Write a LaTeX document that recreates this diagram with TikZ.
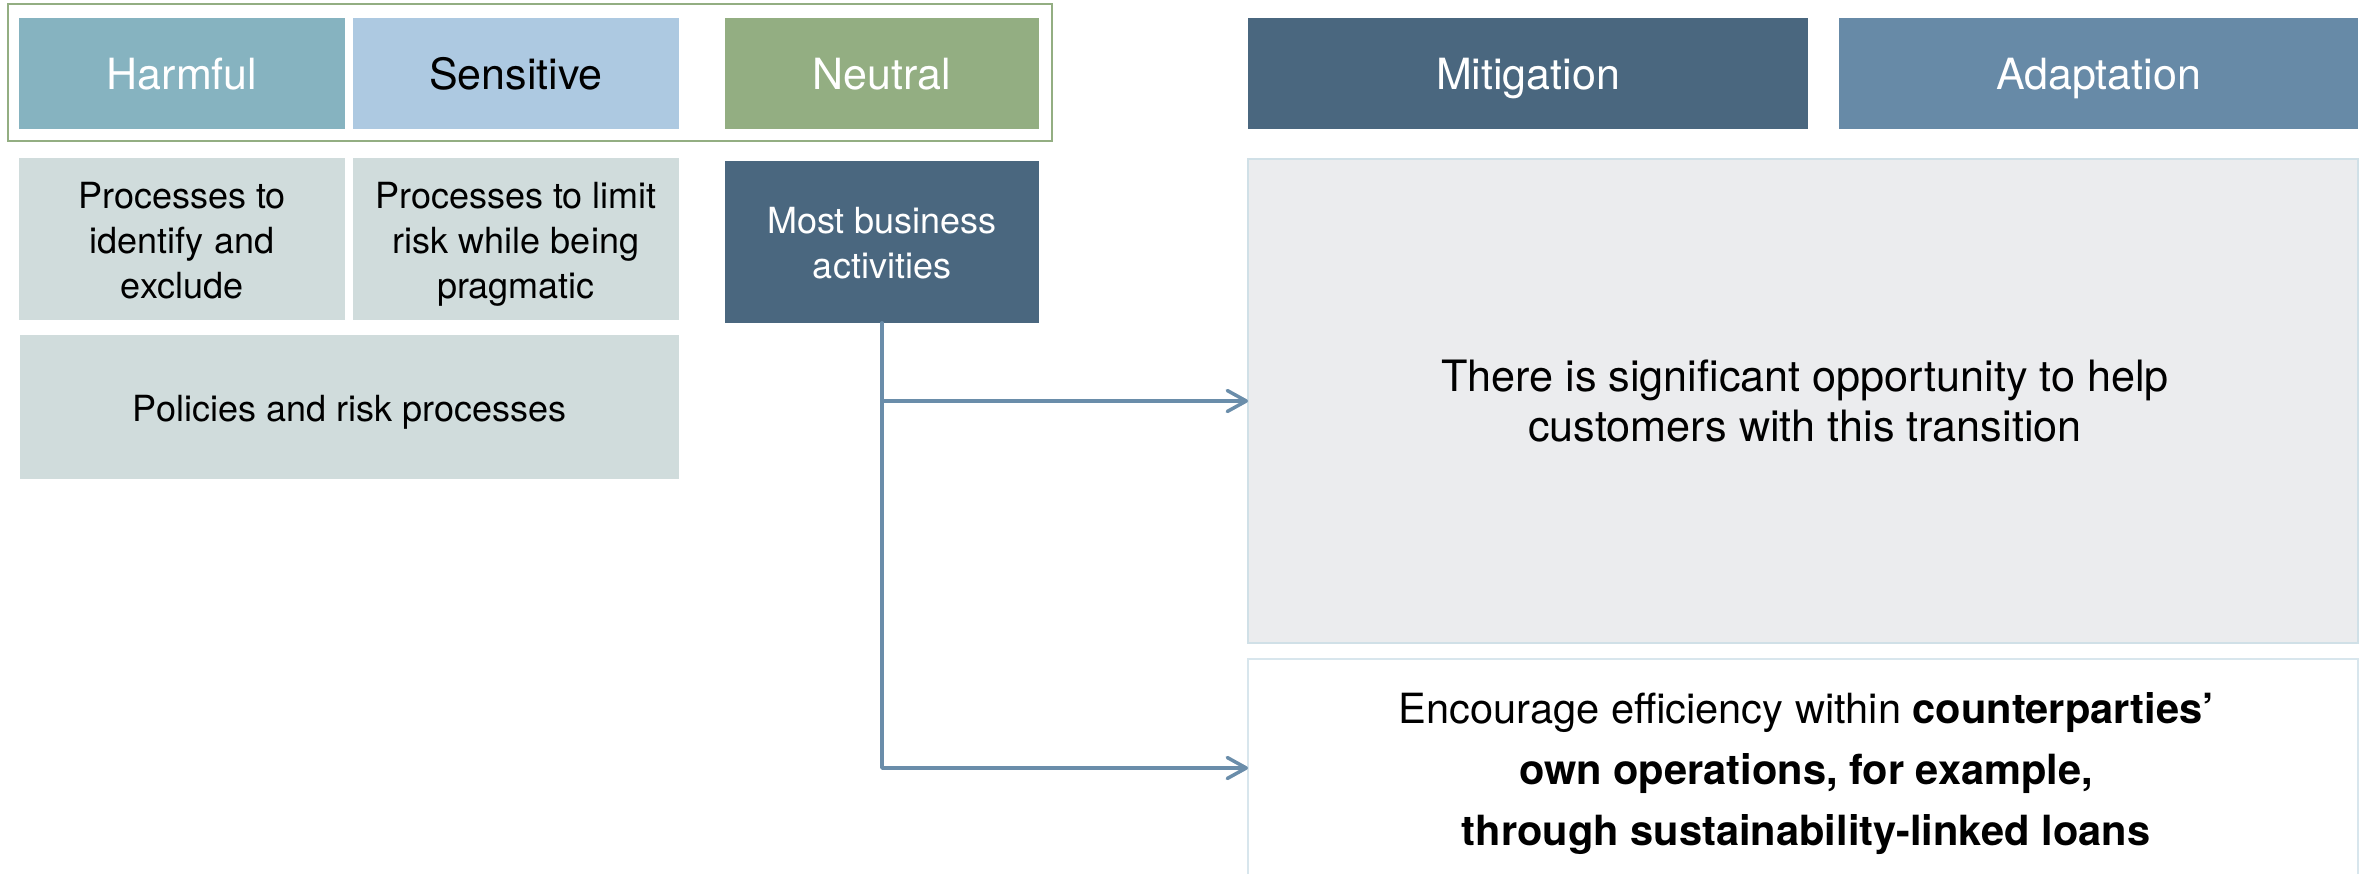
\documentclass[tikz,border=0pt]{standalone}
\usepackage{fontspec}
\setmainfont{TeX Gyre Heros}
\usetikzlibrary{arrows.meta}
\definecolor{harmc}{HTML}{86B3C0}
\definecolor{sensc}{HTML}{ADC9E1}
\definecolor{neutc}{HTML}{93AE82}
\definecolor{procc}{HTML}{D0DCDC}
\definecolor{darkc}{HTML}{4A677F}
\definecolor{adapc}{HTML}{678AA7}
\definecolor{grayfill}{HTML}{EBECEE}
\definecolor{grayborder}{HTML}{D0E0E7}
\definecolor{whiteborder}{HTML}{D8E6ED}
\definecolor{arrowc}{HTML}{6A8DAA}
\newcommand\fhead{\fontsize{43}{50}\selectfont}
\newcommand\fproc{\fontsize{36}{45}\selectfont}
\newcommand\fbig{\fontsize{43.2}{50}\selectfont}
\newcommand\fwhite{\fontsize{41.6}{61}\selectfont}
\begin{document}
\begin{tikzpicture}[x=1pt,y=-1pt,
  box/.style={rectangle, inner sep=0pt, outer sep=0pt, draw=none},
  ln/.style={anchor=base, inner sep=0pt, outer sep=0pt},
  conn/.style={draw=arrowc, line width=3.5pt, line cap=round, line join=round,
    -{Straight Barb[length=19pt,width=21pt,round]}}]
\useasboundingbox (0,0) rectangle (2371,873);
\fill[white] (0,0) rectangle (2371,873);
% frame around categories
\node[box, draw=neutc, line width=2pt, minimum width=1044pt, minimum height=137pt] (frame) at (530,72.5) {};
% header boxes
\node[box, fill=harmc, minimum width=326pt, minimum height=111pt] (harm) at (182,73.5) {};
\node[box, fill=sensc, minimum width=326pt, minimum height=111pt] (sens) at (516,73.5) {};
\node[box, fill=neutc, minimum width=314pt, minimum height=111pt] (neut) at (882,73.5) {};
\node[box, fill=darkc, minimum width=560pt, minimum height=111pt] (miti) at (1528,73.5) {};
\node[box, fill=adapc, minimum width=519pt, minimum height=111pt] (adap) at (2098.5,73.5) {};
\node[ln, font=\fhead, text=white] (tharm) at (182,89.3) {Harmful};
\node[ln, font=\fhead, text=black] (tsens) at (516,89.3) {Sensitive};
\node[ln, font=\fhead, text=white] (tneut) at (882,89.3) {Neutral};
\node[ln, font=\fhead, text=white] (tmiti) at (1528,89.3) {Mitigation};
\node[ln, font=\fhead, text=white] (tadap) at (2098.5,89.3) {Adaptation};
% process boxes
\node[box, fill=procc, minimum width=326pt, minimum height=162pt] (p1) at (182,239) {};
\node[box, fill=procc, minimum width=326pt, minimum height=162pt] (p2) at (516,239) {};
\node[box, fill=darkc, minimum width=314pt, minimum height=162pt] (mb) at (882,242) {};
\node[box, fill=procc, minimum width=659pt, minimum height=144pt] (pol) at (349.5,407) {};
\node[ln, font=\fproc] (p1a) at (182,208.3) {Processes to};
\node[ln, font=\fproc] (p1b) at (182,253.3) {identify and};
\node[ln, font=\fproc] (p1c) at (182,298.3) {exclude};
\node[ln, font=\fproc] (p2a) at (516,208.3) {Processes to limit};
\node[ln, font=\fproc] (p2b) at (516,253.3) {risk while being};
\node[ln, font=\fproc] (p2c) at (516,298.3) {pragmatic};
\node[ln, font=\fproc, text=white] (mba) at (882,233.3) {Most business};
\node[ln, font=\fproc, text=white] (mbb) at (882,278.3) {activities};
\node[ln, font=\fproc] (pola) at (349.5,421.7) {Policies and risk processes};
% right boxes
\node[box, fill=grayfill, draw=grayborder, line width=2.5pt, minimum width=1110pt, minimum height=484pt] (gray) at (1803,401) {};
\node[box, fill=white, draw=whiteborder, line width=2pt, minimum width=1110pt, minimum height=218pt] (wbox) at (1803,768) {};
\node[ln, font=\fbig] (ga) at (1805,391.7) {There is significant opportunity to help};
\node[ln, font=\fbig] (gb) at (1805,441.7) {customers with this transition};
\node[ln, font=\fwhite] (wa) at (1806,723) {Encourage efficiency within \textbf{counterparties’}};
\node[ln, font=\fwhite] (wb) at (1806,784) {\textbf{own operations, for example,}};
\node[ln, font=\fwhite] (wc) at (1806,845) {\textbf{through sustainability-linked loans}};
% connectors
\draw[conn] (mb.south) |- (gray.west);
\draw[conn] (mb.south) |- (wbox.west);
\end{tikzpicture}
\end{document}
